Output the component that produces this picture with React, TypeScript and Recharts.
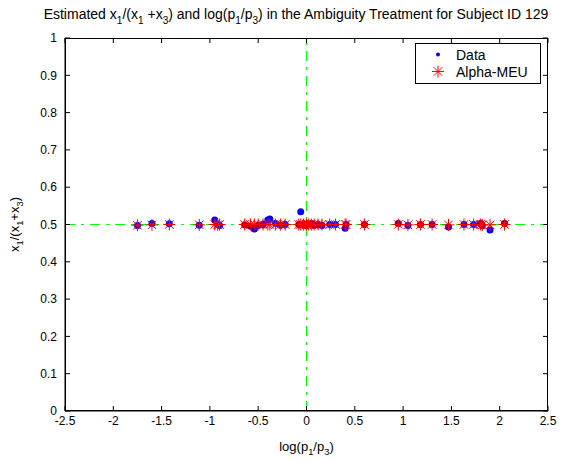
import React from 'react';
import { ScatterChart, Scatter, XAxis, YAxis, ReferenceLine, Legend, Label } from 'recharts';

// log(p1/p3) for each decision
const logRatio = [
  -1.75, -1.6, -1.42, -1.11, -0.95, -0.92, -0.9, -0.64, -0.58, -0.54, -0.5, -0.45, -0.4, -0.38,
  -0.32, -0.27, -0.22, -0.08, -0.06, -0.03, 0.0, 0.02, 0.05, 0.08, 0.12, 0.16, 0.24, 0.3, 0.4,
  0.41, 0.6, 0.95, 1.05, 1.18, 1.3, 1.47, 1.63, 1.73, 1.8, 1.82, 1.9, 2.05,
];
// observed x1/(x1+x3)
const dataShare = [
  0.497, 0.503, 0.502, 0.498, 0.512, 0.5, 0.497, 0.499, 0.495, 0.488, 0.497, 0.5, 0.512, 0.515,
  0.503, 0.498, 0.5, 0.5, 0.534, 0.5, 0.497, 0.5, 0.503, 0.498, 0.5, 0.497, 0.5, 0.5, 0.49,
  0.5, 0.5, 0.503, 0.497, 0.5, 0.5, 0.493, 0.5, 0.5, 0.503, 0.497, 0.485, 0.503,
];
// Alpha-MEU fitted x1/(x1+x3)
const alphaMeuShare = [
  0.498, 0.499, 0.5, 0.499, 0.5, 0.499, 0.5, 0.5, 0.5, 0.5, 0.5, 0.5, 0.5, 0.5,
  0.5, 0.5, 0.5, 0.5, 0.5, 0.5, 0.5, 0.5, 0.5, 0.5, 0.5, 0.5, 0.5, 0.5, 0.5,
  0.5, 0.5, 0.5, 0.499, 0.5, 0.5, 0.499, 0.5, 0.5, 0.5, 0.499, 0.499, 0.5,
];
const seriesNames = ['Data', 'Alpha-MEU'];
const xTicks = [-2.5, -2, -1.5, -1, -0.5, 0, 0.5, 1, 1.5, 2, 2.5];
const yTicks = [0, 0.1, 0.2, 0.3, 0.4, 0.5, 0.6, 0.7, 0.8, 0.9, 1];
const X_MIN = -2.5;
const X_MAX = 2.5;
const Y_MIN = 0;
const Y_MAX = 1;

const dataPoints = logRatio.map((x, i) => ({ x, y: dataShare[i] }));
const meuPoints = logRatio.map((x, i) => ({ x, y: alphaMeuShare[i] }));

const FONT = '"Liberation Sans", Arial, sans-serif';

// plot box (chart margins + axis sizes)
const W = 569;
const H = 462;
const LEFT = 65;
const TOP = 38;
const RIGHT = 21;
const BOTTOM = 51;
const PW = W - LEFT - RIGHT;
const PH = H - TOP - BOTTOM;

type Part = [string, boolean];
const titleParts: Part[] = [
  ['Estimated x', false], ['1', true], ['/(x', false], ['1', true], [' +x', false], ['3', true],
  [') and log(p', false], ['1', true], ['/p', false], ['3', true],
  [') in the Ambiguity Treatment for Subject ID 129', false],
];
const xLabelParts: Part[] = [['log(p', false], ['1', true], ['/p', false], ['3', true], [')', false]];
const yLabelParts: Part[] = [['x', false], ['1', true], ['/(x', false], ['1', true], ['+x', false], ['3', true], [')', false]];

const RichText = ({ parts, x, y, size, transform }: { parts: Part[]; x: number; y: number; size: number; transform?: string }) => (
  <text x={x} y={y} textAnchor="middle" fontFamily={FONT} fontSize={size} fill="#000" transform={transform}>
    {parts.map(([t, sub], i) => {
      const prevSub = i > 0 && parts[i - 1][1];
      const shift = Math.round(size * 0.33);
      const dy = sub ? (prevSub ? 0 : shift) : prevSub ? -shift : 0;
      return (
        <tspan key={i} dy={dy} fontSize={sub ? size * 0.72 : size} style={{ whiteSpace: 'pre' }}>
          {t}
        </tspan>
      );
    })}
  </text>
);

const Star = (props: any) => {
  const { cx, cy } = props;
  const r = 6;
  const d = r * 0.707;
  return (
    <g stroke="#ff0000" strokeWidth={1}>
      <line x1={cx - r} y1={cy} x2={cx + r} y2={cy} />
      <line x1={cx} y1={cy - r} x2={cx} y2={cy + r} />
      <line x1={cx - d} y1={cy - d} x2={cx + d} y2={cy + d} />
      <line x1={cx - d} y1={cy + d} x2={cx + d} y2={cy - d} />
    </g>
  );
};

const Dot = (props: any) => <circle cx={props.cx} cy={props.cy} r={props.r ?? 3.5} fill="#0000ff" />;

const renderLegend = () => (
  <div
    style={{
      border: '1px solid #000',
      background: '#fff',
      width: 124,
      height: 37,
      boxSizing: 'content-box',
      fontFamily: FONT,
      fontSize: 14,
      color: '#000',
      paddingTop: 2,
    }}
  >
    {seriesNames.map((name) => (
      <div key={name} style={{ display: 'flex', alignItems: 'center', height: 17 }}>
        <svg width={40} height={17}>
          {name === 'Data' ? <Dot cx={22} cy={8.5} r={2} /> : <Star cx={22} cy={8.5} />}
        </svg>
        <span>{name}</span>
      </div>
    ))}
  </div>
);

// axes box outline with inward ticks on the top and right edges
const BoxFrame = () => {
  const sx = (v: number) => LEFT + ((v - X_MIN) / (X_MAX - X_MIN)) * PW;
  const sy = (v: number) => TOP + PH - ((v - Y_MIN) / (Y_MAX - Y_MIN)) * PH;
  return (
    <svg width={W} height={H} style={{ position: 'absolute', left: 0, top: 0, pointerEvents: 'none', zIndex: 5 }}>
      <rect x={LEFT + 0.5} y={TOP + 0.5} width={PW - 1} height={PH - 1} fill="none" stroke="#000" strokeWidth={1} />
      {xTicks.map((t) => (
        <line key={`t${t}`} x1={sx(t)} y1={TOP} x2={sx(t)} y2={TOP + 5} stroke="#000" strokeWidth={1} />
      ))}
      {yTicks.map((t) => (
        <line key={`r${t}`} x1={LEFT + PW - 5} y1={sy(t)} x2={LEFT + PW} y2={sy(t)} stroke="#000" strokeWidth={1} />
      ))}
    </svg>
  );
};

const axisTick = { fill: '#000', fontSize: 12, fontFamily: FONT };

export default function App() {
  return (
    <div style={{ position: 'absolute', left: 0, top: 0, width: W, height: H, background: '#fff' }}>
      <svg width={W} height={30} style={{ position: 'absolute', left: 0, top: 0 }}>
        <RichText parts={titleParts} x={296} y={19} size={14} />
      </svg>
      <ScatterChart width={W} height={H} margin={{ top: TOP, right: RIGHT, bottom: 0, left: 0 }}>
        <XAxis
          type="number"
          dataKey="x"
          domain={[X_MIN, X_MAX]}
          ticks={xTicks}
          tickSize={-5}
          tickMargin={10}
          height={BOTTOM}
          stroke="#000"
          tick={axisTick}
          allowDataOverflow
        >
          <Label
            content={(p: any) => (
              <RichText parts={xLabelParts} x={p.viewBox.x + p.viewBox.width / 2} y={p.viewBox.y + 40} size={13} />
            )}
          />
        </XAxis>
        <YAxis
          type="number"
          dataKey="y"
          domain={[Y_MIN, Y_MAX]}
          ticks={yTicks}
          tickSize={-5}
          tickMargin={13}
          width={LEFT}
          stroke="#000"
          tick={axisTick}
          allowDataOverflow
        >
          <Label
            content={(p: any) => {
              const cx = 19;
              const cy = p.viewBox.y + p.viewBox.height / 2;
              return <RichText parts={yLabelParts} x={cx} y={cy} size={13} transform={`rotate(-90 ${cx} ${cy})`} />;
            }}
          />
        </YAxis>
        <ReferenceLine x={0} stroke="#00ff00" strokeDasharray="10 6 3 6" />
        <ReferenceLine y={0.5} stroke="#00ff00" strokeDasharray="10 6 3 6" />
        <Scatter name="Data" data={dataPoints} fill="#0000ff" shape={Dot} isAnimationActive={false} />
        <Scatter name="Alpha-MEU" data={meuPoints} fill="#ff0000" shape={Star} isAnimationActive={false} />
        <Legend
          layout="vertical"
          align="center"
          verticalAlign="middle"
          wrapperStyle={{ position: 'absolute', left: 415, top: 43, width: 126, height: 41 }}
          content={renderLegend}
        />
      </ScatterChart>
      <BoxFrame />
    </div>
  );
}
